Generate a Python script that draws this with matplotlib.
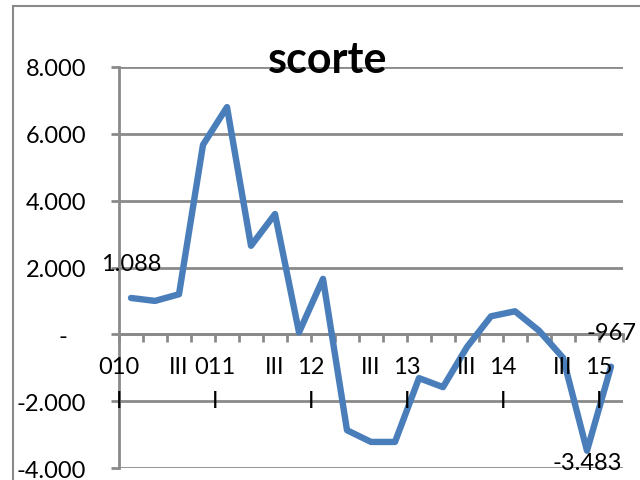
import numpy as np
import matplotlib.pyplot as plt
from matplotlib.patches import Rectangle

plt.rcParams['font.family'] = ['Lato', 'DejaVu Sans']

# scorte trimestrali (2010 I - 2015 I)
quarters = ['I', 'II', 'III', 'IV'] * 5 + ['I']
year_labels = ['010', '011', '12', '13', '14', '15']
values = [1088, 1000, 1200, 5670, 6800, 2650, 3600, 60, 1660, -2870, -3220,
          -3220, -1310, -1580, -380, 540, 690, 110, -700, -3483, -967]
labelled = [0, 19, 20]  # punti con etichetta dati
y_ticks = [-4000, -2000, 0, 2000, 4000, 6000, 8000]

grey = '#8a8a8a'
blue = '#4a7ebb'
fs = 17


def fmt(v):
    if v == 0:
        return '-   '
    return f"{v:,}".replace(',', '.')


fig = plt.figure(figsize=(6.4, 4.81), dpi=100)
ax = fig.add_axes([119 / 640, 1 - 469 / 481, 504 / 640, 401 / 481])

x = np.arange(len(values))
ax.plot(x, values, color=blue, lw=4.6, solid_joinstyle='round',
        solid_capstyle='round', zorder=3, clip_on=False)

ax.set_xlim(-0.5, len(values) - 0.5)
ax.set_ylim(-4000, 8000)
ax.set_yticks(y_ticks, labels=[fmt(v) for v in y_ticks])
ax.set_xticks(np.arange(-0.5, len(values)), labels=[])

ax.yaxis.grid(True, color=grey, lw=2)
ax.set_axisbelow(True)
for s in ['top', 'right']:
    ax.spines[s].set_visible(False)
ax.spines['left'].set_color(grey)
ax.spines['left'].set_linewidth(2)
ax.spines['bottom'].set_position(('data', 0))
ax.spines['bottom'].set_color(grey)
ax.spines['bottom'].set_linewidth(2)
ax.tick_params(axis='y', direction='out', length=5.8, width=2, color=grey,
               pad=18, labelsize=fs)
ax.tick_params(axis='x', direction='out', length=5.8, width=2, color=grey)

# etichette categorie su due righe
yi = 0
for i, q in enumerate(quarters):
    if q == 'I':
        ax.annotate(year_labels[yi], (i - 0.5, 0), xytext=(0, -23.4),
                    textcoords='offset points', ha='center', va='center',
                    fontsize=fs)
        ax.annotate('I', (i - 0.5, 0), xytext=(0, -47.9),
                    textcoords='offset points', ha='center', va='center',
                    fontsize=fs)
        yi += 1
    elif q == 'III':
        ax.annotate('III', (i, 0), xytext=(0, -23.4),
                    textcoords='offset points', ha='center', va='center',
                    fontsize=fs)

# etichette dati
for i in labelled:
    dy = -8.6 if i == 19 else 24.5
    ax.annotate(fmt(values[i]), (i, values[i]), xytext=(0, dy),
                textcoords='offset points', ha='center', va='center',
                fontsize=fs, zorder=4)

fig.text(328 / 640, 1 - 73 / 481, 'scorte', ha='center', va='baseline',
         fontsize=31, fontweight='bold')

# bordo dell'area grafico
fig.add_artist(Rectangle((13 / 640, -0.2), 1.2, 1.2 - 7 / 481,
                         transform=fig.transFigure, fill=False,
                         edgecolor=grey, lw=1.5))

fig.savefig('out.png', dpi=100)
